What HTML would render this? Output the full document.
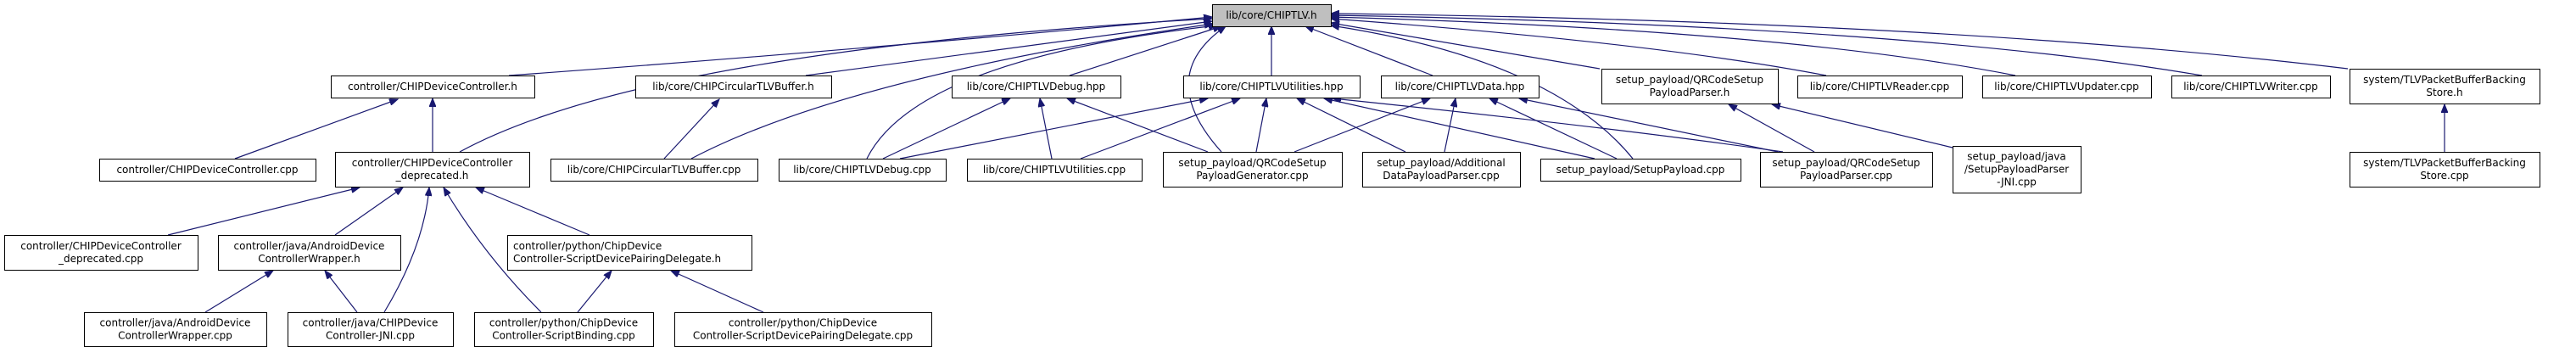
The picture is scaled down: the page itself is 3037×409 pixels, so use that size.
<!DOCTYPE html>
<html><head><meta charset="utf-8"><style>
html,body{margin:0;padding:0;background:#fff;}
svg{display:block;}
text{font-family:"DejaVu Sans","Liberation Sans",sans-serif;font-size:12px;fill:#000;}
</style></head><body>
<svg id="s" width="3037" height="409" viewBox="0 0 3037 409" xmlns="http://www.w3.org/2000/svg">
<defs><marker id="a" markerWidth="11" markerHeight="8" refX="10" refY="4" orient="auto" markerUnits="userSpaceOnUse"><path d="M0,0 L10,4 L0,8 Z" fill="#191970" stroke="#191970"/></marker></defs>
<g id="edges" fill="none" stroke="#191970" stroke-width="1.2"></g>
<g id="nodes"></g>
</svg>
<script>
var E=[
[600,89,1429,20,1000,60],
[542,179,1429,22,760,60],
[950,89,1429,25],
[815,187,1430,28,1000,90],
[1022,187,1435,30,1080,70],
[1261,89,1440,31],
[1440,179,1445,31,1360,90],
[1499,89,1499,31],
[1689,89,1539,31],
[1886,81,1569,27],
[1925,187,1569,30,1830,70],
[2153,89,1569,22,1950,50],
[2376,89,1569,20,2100,35],
[2596,89,1569,18,2250,30],
[2768,81,1569,16,2300,25],
[277,187,469,117],
[510,179,510,116],
[783,187,848,117],
[198,277,424,221],
[395,277,475,221],
[453,368,506,221,500,290],
[638,368,523,221,570,300],
[695,277,561,221],
[242,368,322,319],
[421,368,383,319],
[681,368,721,319],
[900,368,791,319],
[1041,187,1191,116],
[1240,187,1226,116],
[1424,179,1258,116],
[1061,187,1424,116],
[1274,187,1462,116],
[1481,179,1493,116],
[1657,179,1529,116],
[1880,187,1561,116],
[2102,179,1571,116,1900,150],
[1526,179,1686,116],
[1703,179,1716,116],
[1906,187,1756,116],
[2096,179,1791,116],
[2139,179,2038,123],
[2302,174,2089,123],
[2882,179,2882,123]
];
var N=[
[1429,5,140,26,["lib/core/CHIPTLV.h"],1],
[390,89,240,26,["controller/CHIPDeviceController.h"]],
[749,89,231,26,["lib/core/CHIPCircularTLVBuffer.h"]],
[1122,89,199,26,["lib/core/CHIPTLVDebug.hpp"]],
[1395,89,208,26,["lib/core/CHIPTLVUtilities.hpp"]],
[1628,89,186,26,["lib/core/CHIPTLVData.hpp"]],
[1888,81,208,41,["setup_payload/QRCodeSetup","PayloadParser.h"]],
[2119,89,194,26,["lib/core/CHIPTLVReader.cpp"]],
[2337,89,199,26,["lib/core/CHIPTLVUpdater.cpp"]],
[2560,89,187,26,["lib/core/CHIPTLVWriter.cpp"]],
[2770,81,224,41,["system/TLVPacketBufferBacking","Store.h"]],
[117,187,255,26,["controller/CHIPDeviceController.cpp"]],
[395,179,229,41,["controller/CHIPDeviceController","_deprecated.h"]],
[649,187,244,26,["lib/core/CHIPCircularTLVBuffer.cpp"]],
[918,187,197,26,["lib/core/CHIPTLVDebug.cpp"]],
[1140,187,206,26,["lib/core/CHIPTLVUtilities.cpp"]],
[1371,179,211,41,["setup_payload/QRCodeSetup","PayloadGenerator.cpp"]],
[1606,179,186,41,["setup_payload/Additional","DataPayloadParser.cpp"]],
[1816,187,236,26,["setup_payload/SetupPayload.cpp"]],
[2075,179,203,41,["setup_payload/QRCodeSetup","PayloadParser.cpp"]],
[2302,172,151,55,["setup_payload/java","/SetupPayloadParser","-JNI.cpp"]],
[2770,179,224,41,["system/TLVPacketBufferBacking","Store.cpp"]],
[5,277,228,41,["controller/CHIPDeviceController","_deprecated.cpp"]],
[257,277,215,41,["controller/java/AndroidDevice","ControllerWrapper.h"]],
[598,277,288,41,["controller/python/ChipDevice","Controller-ScriptDevicePairingDelegate.h"],0,1],
[99,368,215,40,["controller/java/AndroidDevice","ControllerWrapper.cpp"]],
[339,368,195,40,["controller/java/CHIPDevice","Controller-JNI.cpp"]],
[559,368,211,40,["controller/python/ChipDevice","Controller-ScriptBinding.cpp"]],
[795,368,303,40,["controller/python/ChipDevice","Controller-ScriptDevicePairingDelegate.cpp"]]
];
var ns="http://www.w3.org/2000/svg",eg=document.getElementById("edges"),ng=document.getElementById("nodes");
E.forEach(function(e){var p=document.createElementNS(ns,"path");
var d=e.length>4?"M"+e[0]+","+e[1]+" Q"+e[4]+","+e[5]+" "+e[2]+","+e[3]:"M"+e[0]+","+e[1]+" L"+e[2]+","+e[3];
p.setAttribute("d",d);p.setAttribute("marker-end","url(#a)");eg.appendChild(p);});
N.forEach(function(n){var r=document.createElementNS(ns,"rect");
r.setAttribute("x",n[0]+.5);r.setAttribute("y",n[1]+.5);r.setAttribute("width",n[2]);r.setAttribute("height",n[3]);
r.setAttribute("fill",n[5]?"#bfbfbf":"#fff");r.setAttribute("stroke","#000");r.setAttribute("stroke-width","1");ng.appendChild(r);
var L=n[4],h=15,y0=n[1]+n[3]/2-(L.length*h)/2+11.5;
L.forEach(function(s,i){var t=document.createElementNS(ns,"text");
if(n[6]){t.setAttribute("x",n[0]+7);}else{t.setAttribute("x",n[0]+n[2]/2);t.setAttribute("text-anchor","middle");}
t.setAttribute("y",y0+i*h);t.textContent=s;ng.appendChild(t);});});
</script>
</body></html>
